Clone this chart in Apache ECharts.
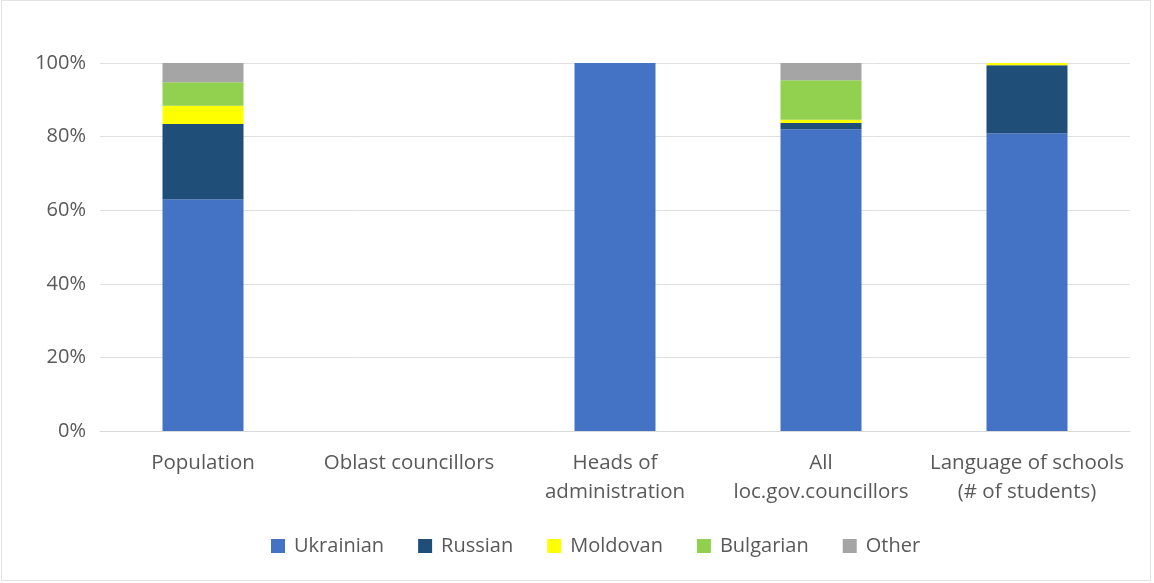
<!DOCTYPE html>
<html>
<head>
<meta charset="utf-8">
<script src="https://cdn.jsdelivr.net/npm/echarts@6/dist/echarts.min.js"></script>
<style>
html,body{margin:0;padding:0;background:#fff;}
#frame{position:absolute;left:1px;top:0;width:1150px;height:581px;border:1px solid #e3e3e3;box-sizing:border-box;}
#chart{position:absolute;left:0;top:0;width:1154px;height:583px;}
</style>
</head>
<body>
<div id="frame"></div>
<div id="chart"></div>
<script>
const categories = ['Population', 'Oblast councillors', 'Heads of\nadministration', 'All\nloc.gov.councillors', 'Language of schools\n(# of students)'];
const seriesNames = ['Ukrainian', 'Russian', 'Moldovan', 'Bulgarian', 'Other'];
const ukrainian = [63.0, 0, 100, 82.0, 80.9];
const russian   = [20.4, 0, 0, 1.7, 18.5];
const moldovan  = [5.0, 0, 0, 0.9, 0.6];
const bulgarian = [6.4, 0, 0, 10.7, 0];
const other     = [5.2, 0, 0, 4.7, 0];
const colors = ['#4472c4', '#1f4e79', '#ffff00', '#92d050', '#a5a5a5'];
const yTicks = [0, 20, 40, 60, 80, 100];

const values = [ukrainian, russian, moldovan, bulgarian, other];
const chart = echarts.init(document.getElementById('chart'));
const font = '"Open Sans", "Noto Sans", sans-serif';
chart.setOption({
  animation: false,
  textStyle: { fontFamily: font },
  grid: { left: 100, right: 24, top: 63, bottom: 152 },
  legend: {
    bottom: 22,
    left: 266,
    itemWidth: 14,
    itemHeight: 14,
    itemGap: 34,
    icon: 'rect',
    textStyle: { color: '#595959', fontSize: 20, fontFamily: font, padding: [0, 0, 0, 4] },
    data: seriesNames
  },
  xAxis: {
    type: 'category',
    data: categories,
    axisLine: { lineStyle: { color: '#d9d9d9', width: 1 } },
    axisTick: { show: false },
    axisLabel: { color: '#595959', fontSize: 20.5, fontFamily: font, lineHeight: 29, margin: 18, interval: 0 }
  },
  yAxis: {
    type: 'value',
    min: yTicks[0],
    max: yTicks[yTicks.length - 1],
    interval: 20,
    axisLine: { show: false },
    axisTick: { show: false },
    splitLine: { lineStyle: { color: '#e0e0e0', width: 1 } },
    axisLabel: { color: '#595959', fontSize: 20, fontFamily: font, margin: 14, formatter: '{value}%' }
  },
  series: seriesNames.map((name, i) => ({
    name: name,
    type: 'bar',
    stack: 'total',
    barWidth: 81,
    itemStyle: { color: colors[i] },
    data: values[i]
  }))
});
</script>
</body>
</html>
